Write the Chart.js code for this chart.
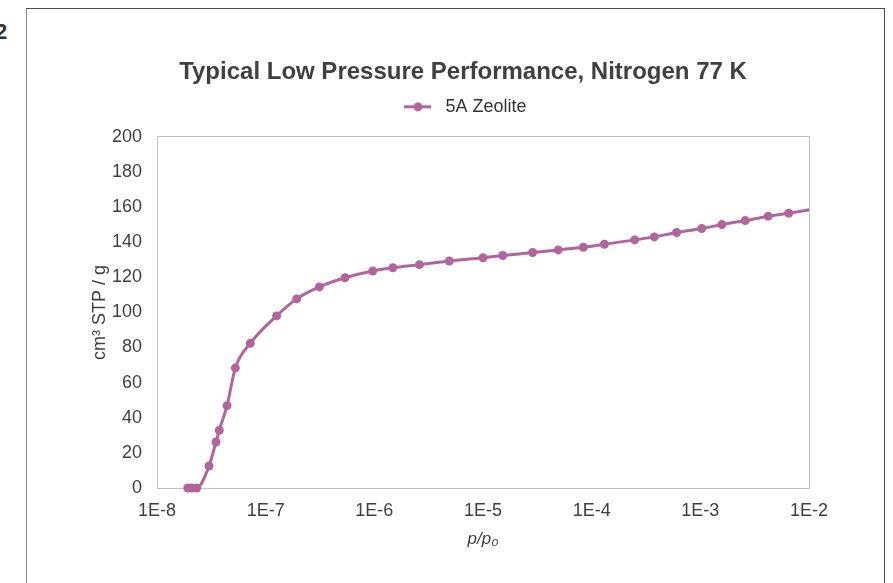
<!DOCTYPE html>
<html>
<head>
<meta charset="utf-8">
<script src="https://cdn.jsdelivr.net/npm/chart.js@4.4.1/dist/chart.umd.min.js"></script>
<style>
  html, body { margin: 0; padding: 0; background: #ffffff; overflow: hidden; }
  #wrap { position: relative; width: 893px; height: 583px; }
  #frame { position: absolute; left: 26px; top: 8px; width: 857px; height: 620px;
           border-top: 1px solid #4a4a4a; border-right: 1px solid #4a4a4a; border-left: 1px solid #8c8c8c; }
  #frag { position: absolute; left: -5px; top: 19px; font: bold 22px 'Liberation Sans', Arial, sans-serif; color: #333; }
  canvas { position: absolute; left: 0; top: 0; }
</style>
</head>
<body>
<div id="wrap">
  <div id="frag">2</div>
  <div id="frame"></div>
  <canvas id="c" width="893" height="583"></canvas>
</div>
<script>
// ---- data ----
const seriesName = '5A Zeolite';
const pressure = [1.92e-8, 2.09e-8, 2.32e-8, 3.01e-8, 3.49e-8, 3.74e-8, 4.41e-8, 5.26e-8, 7.22e-8,
  1.26e-7, 1.93e-7, 3.12e-7, 5.37e-7, 9.66e-7, 1.48e-6, 2.6e-6, 4.9e-6, 1.0e-5, 1.52e-5,
  2.86e-5, 4.93e-5, 8.38e-5, 1.31e-4, 2.49e-4, 3.77e-4, 6.05e-4, 1.03e-3, 1.58e-3, 2.59e-3,
  4.21e-3, 6.5e-3, 1.05e-2];
const uptake = [0, 0, 0, 12.5, 26.2, 32.9, 46.9, 68.4, 82.4,
  98, 107.7, 114.5, 119.7, 123.6, 125.4, 127.2, 129.3, 131.1, 132.4,
  134.1, 135.6, 137.1, 138.8, 141.3, 143, 145.5, 147.8, 150, 152.3,
  154.8, 156.5, 158.6];
const xTickValues = [1e-8, 1e-7, 1e-6, 1e-5, 1e-4, 1e-3, 1e-2];
const xTickLabels = ['1E-8', '1E-7', '1E-6', '1E-5', '1E-4', '1E-3', '1E-2'];
const yMin = 0, yMax = 200, yStep = 20;

const lineColor = '#B0669C';
const textColor = '#3f3f3f';
const boxColor = '#c0c0c0';
Chart.defaults.font.family = "'Liberation Sans', Arial, sans-serif";
Chart.defaults.color = textColor;

// legend marker: short line with a dot
const marker = document.createElement('canvas');
marker.width = 27; marker.height = 11;
(function () {
  const m = marker.getContext('2d');
  m.strokeStyle = lineColor; m.lineWidth = 3;
  m.beginPath(); m.moveTo(0, 5.5); m.lineTo(27, 5.5); m.stroke();
  m.fillStyle = lineColor;
  m.beginPath(); m.arc(13.5, 5.5, 4.5, 0, Math.PI * 2); m.fill();
})();

const points = pressure.map((p, i) => ({ x: p, y: uptake[i] }));

new Chart(document.getElementById('c'), {
  type: 'line',
  data: {
    datasets: [{
      label: seriesName,
      data: points,
      xAxisID: 'x',
      yAxisID: 'y',
      borderColor: lineColor,
      backgroundColor: lineColor,
      borderWidth: 3,
      pointRadius: (ctx) => (ctx.raw && ctx.raw.x > 1e-2 ? 0 : 4.5),
      pointHoverRadius: 4.5,
      pointBackgroundColor: lineColor,
      pointBorderColor: lineColor,
      pointBorderWidth: 0,
      cubicInterpolationMode: 'monotone',
      fill: false,
      clip: { left: 6, top: 6, right: 0, bottom: 6 }
    }]
  },
  options: {
    responsive: false,
    animation: false,
    layout: { padding: { left: 40, right: 7, top: 0, bottom: 0 } },
    plugins: {
      title: {
        display: true,
        text: 'Typical Low Pressure Performance, Nitrogen 77 K',
        color: '#404040',
        font: { size: 24, weight: 'bold' },
        padding: { top: 58, bottom: 1 }
      },
      legend: {
        display: true,
        position: 'top',
        labels: {
          usePointStyle: true,
          pointStyleWidth: 37,
          color: '#333333',
          font: { size: 18 },
          padding: 10,
          generateLabels: (chart) => {
            const items = Chart.defaults.plugins.legend.labels.generateLabels(chart);
            items.forEach(it => { it.pointStyle = marker; });
            return items;
          }
        }
      },
      tooltip: { enabled: false }
    },
    scales: {
      x: {
        type: 'logarithmic',
        position: 'bottom',
        min: xTickValues[0],
        max: xTickValues[xTickValues.length - 1],
        afterBuildTicks: (s) => { s.ticks = xTickValues.map(v => ({ value: v })); },
        afterFit: (s) => { s.height = 95; },
        grid: { display: false, drawTicks: false },
        border: { display: true, color: boxColor, width: 1 },
        ticks: {
          color: textColor,
          font: { size: 18 },
          padding: 12,
          maxRotation: 0,
          autoSkip: false,
          callback: (v, i) => xTickLabels[i]
        },
        title: {
          display: true,
          text: 'p/p\u2080',
          color: textColor,
          font: { size: 17, style: 'italic' },
          padding: { top: 0, bottom: 34 }
        }
      },
      xTop: {
        type: 'linear',
        position: 'top',
        display: true,
        afterFit: (s) => { s.height = 11; },
        grid: { display: false, drawTicks: false },
        border: { display: true, color: boxColor, width: 1 },
        ticks: { display: false }
      },
      y: {
        type: 'linear',
        position: 'left',
        min: yMin,
        max: yMax,
        afterFit: (s) => { s.width = 117; },
        grid: { display: false, drawTicks: false },
        border: { display: true, color: boxColor, width: 1 },
        ticks: {
          stepSize: yStep,
          color: textColor,
          font: { size: 18 },
          padding: 15
        },
        title: {
          display: true,
          text: 'cm\u00B3 STP / g',
          color: textColor,
          font: { size: 18 },
          padding: { top: 49, bottom: 0 }
        }
      },
      yRight: {
        type: 'linear',
        position: 'right',
        display: true,
        afterFit: (s) => { s.width = 77; },
        grid: { display: false, drawTicks: false },
        border: { display: true, color: boxColor, width: 1 },
        ticks: { display: false }
      }
    }
  }
});
</script>
</body>
</html>
